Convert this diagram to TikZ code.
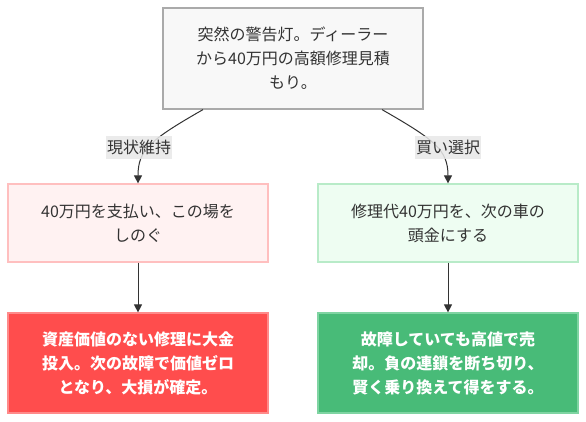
\documentclass[tikz,border=0pt]{standalone}
\usepackage{fontspec}
\setmainfont{Noto Sans CJK JP}
\usetikzlibrary{arrows.meta}
\definecolor{txt}{HTML}{333333}
\definecolor{topfill}{HTML}{F8F8F8}
\definecolor{topdraw}{HTML}{AAAAAA}
\definecolor{pinkfill}{HTML}{FFF2F2}
\definecolor{pinkdraw}{HTML}{FFBFBF}
\definecolor{mintfill}{HTML}{EEFDF2}
\definecolor{mintdraw}{HTML}{B8EBC8}
\definecolor{redfill}{HTML}{FF4D4D}
\definecolor{reddraw}{HTML}{FF8A8A}
\definecolor{greenfill}{HTML}{48BB78}
\definecolor{greendraw}{HTML}{7FD4A2}
\definecolor{lblbg}{HTML}{E8E8E8}
\definecolor{edgecol}{HTML}{333333}
\begin{document}
\begin{tikzpicture}[x=1pt,y=-1pt,
  box/.style={rectangle, minimum width=260pt, align=center, text=txt,
    font=\fontsize{16}{24}\selectfont, line width=1.2pt, inner sep=0pt},
  boldbox/.style={box, text=white, font=\fontsize{16}{24}\selectfont\bfseries},
  edge/.style={draw=edgecol, line width=1pt, -{Triangle[length=8pt,width=8pt]}},
  lbl/.style={fill=lblbg, fill opacity=0.85, text opacity=1, text=txt,
    font=\fontsize{16}{20}\selectfont, inner xsep=1pt, inner ysep=0pt,
    minimum height=23pt}
]
\useasboundingbox (0,0) rectangle (586,422);

\node[box, fill=topfill, draw=topdraw, minimum height=101pt] (top) at (293,58.5)
  {突然の警告灯。ディーラー\\から40万円の高額修理見積\\もり。};

\node[box, fill=pinkfill, draw=pinkdraw, minimum height=78pt] (ml) at (138,223)
  {40万円を支払い、この場を\\しのぐ};
\node[box, fill=mintfill, draw=mintdraw, minimum height=78pt] (mr) at (448,223)
  {修理代40万円を、次の車の\\頭金にする};

\node[boldbox, fill=redfill, draw=reddraw, minimum height=100pt] (bl) at (138,363)
  {資産価値のない修理に大金\\投入。次の故障で価値ゼロ\\となり、大損が確定。};
\node[boldbox, fill=greenfill, draw=greendraw, minimum height=100pt] (br) at (448,363)
  {故障していても高値で売\\却。負の連鎖を断ち切り、\\賢く乗り換えて得をする。};

\draw[edge] ([xshift=-90pt]top.south) .. controls (150,140) and (138,150) .. (ml.north);
\draw[edge] ([xshift=89pt]top.south) .. controls (435,140) and (448,150) .. (mr.north);

\node[lbl] (l1) at (139,147.5) {現状維持};
\node[lbl] (l2) at (448,147.5) {買い選択};

\draw[edge] (ml.south) -- (bl.north);
\draw[edge] (mr.south) -- (br.north);
\end{tikzpicture}
\end{document}
